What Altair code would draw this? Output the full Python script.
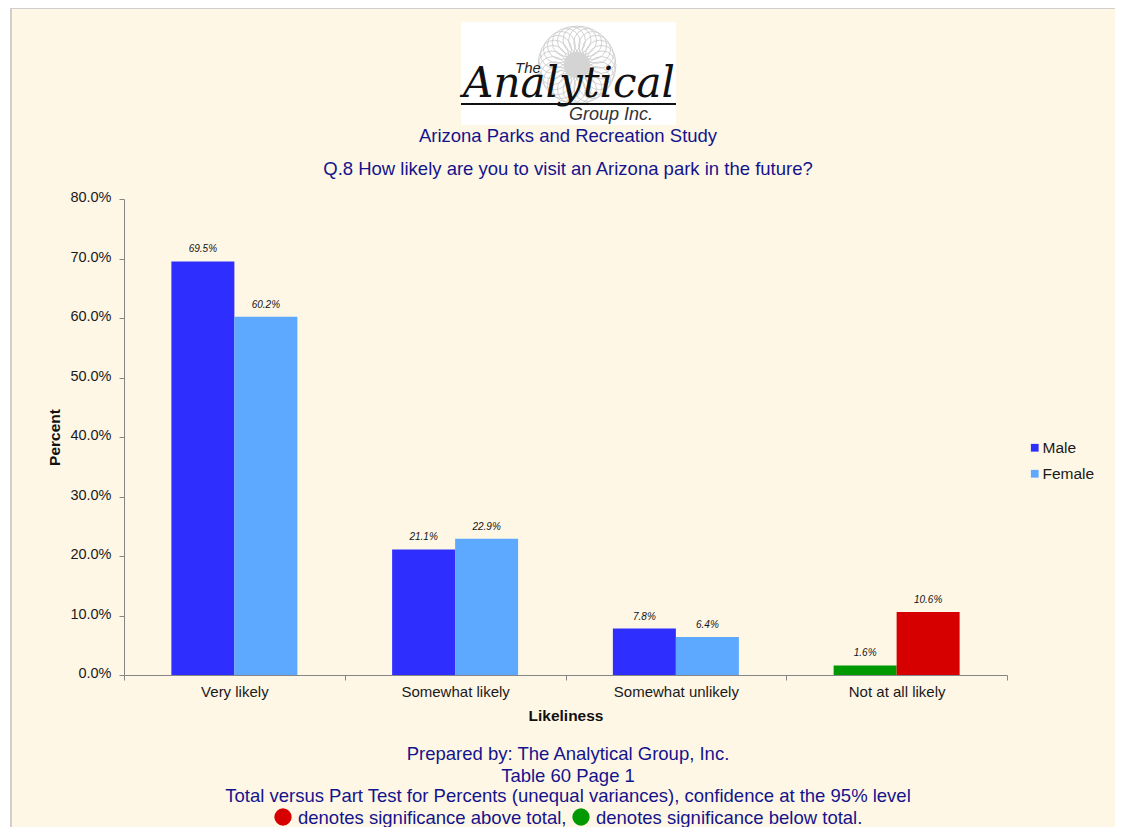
import base64
import math
import altair as alt

categories = ["Very likely", "Somewhat likely", "Somewhat unlikely", "Not at all likely"]
male = [69.5, 21.1, 7.8, 1.6]
female = [60.2, 22.9, 6.4, 10.6]
male_keys = ["Male", "Male", "Male", "Below total"]
female_keys = ["Female", "Female", "Female", "Above total"]
color_domain = ["Male", "Female", "Below total", "Above total"]
color_range = ["#2E2EFF", "#5CA9FF", "#009900", "#D60000"]

rows = []
for c, m, f, mk, fk in zip(categories, male, female, male_keys, female_keys):
    rows.append({"cat": c, "series": "Male", "value": m, "key": mk, "label": f"{m:.1f}%"})
    rows.append({"cat": c, "series": "Female", "value": f, "key": fk, "label": f"{f:.1f}%"})

L, T = 124, 199
W, H = 883, 476
TOTAL_W, TOTAL_H = 1107, 819
PAD = {"left": L - 8, "top": T - 8, "right": TOTAL_W - (L - 8) - W, "bottom": TOTAL_H - (T - 8) - H}
FONT = "Liberation Sans"
NAVY = "#14148C"
ONE = alt.Data(values=[{"a": 1}])


def box(x0, y0, x1, y1, color):
    return alt.Chart(ONE).mark_rect(color=color, clip=False).encode(
        x=alt.value(x0 - L), x2=alt.value(x1 - L), y=alt.value(y0 - T), y2=alt.value(y1 - T))


def label(text, x, y, size=18.5, align="center", color=NAVY, font=FONT, style="normal", weight="normal"):
    return alt.Chart(ONE).mark_text(
        text=text, align=align, baseline="middle", fontSize=size, color=color,
        font=font, fontStyle=style, fontWeight=weight, clip=False,
    ).encode(x=alt.value(x - L), y=alt.value(y - T))


def dot(x, y, color):
    return alt.Chart(ONE).mark_point(filled=True, size=300, color=color, opacity=1, clip=False).encode(
        x=alt.value(x - L), y=alt.value(y - T))


# Decorative grey spirograph behind the logo lettering
loops = "".join(
    f'<circle cx="{40 + 25 * math.cos(i * 0.2244):.1f}" cy="{42 + 25 * math.sin(i * 0.2244):.1f}" r="14" '
    'fill="none" stroke="#c6c6c6" stroke-width="0.8"/>'
    for i in range(28)
)
svg = (f'<svg xmlns="http://www.w3.org/2000/svg" width="80" height="84">{loops}'
       '<circle cx="40" cy="42" r="13" fill="#d4d4d4"/></svg>')
spiro = "data:image/svg+xml;base64," + base64.b64encode(svg.encode()).decode()
logo_img = alt.Chart(ONE).mark_image(url=spiro, width=80, height=84, clip=False, align="center", baseline="middle").encode(
    x=alt.value(577 - L), y=alt.value(65 - T))

base = alt.Chart(alt.Data(values=rows))
x = alt.X("cat:N", sort=categories, scale=alt.Scale(paddingInner=0, paddingOuter=0),
          axis=alt.Axis(title="Likeliness", labelAngle=0, tickBand="extent", domainColor="#868686",
                        tickColor="#868686", tickSize=5, labelFontSize=15, labelColor="#1a1a1a",
                        labelFont=FONT, titleFont=FONT, titleFontSize=15.5, titleFontWeight="bold",
                        titleColor="#111111", labelPadding=4, titlePadding=9, zindex=1))
xo = alt.XOffset("series:N", sort=["Male", "Female"], scale=alt.Scale(paddingInner=0, paddingOuter=0.752))
y = alt.Y("value:Q", scale=alt.Scale(domain=[0, 80], nice=False),
          axis=alt.Axis(title="Percent", values=[0, 10, 20, 30, 40, 50, 60, 70, 80], grid=False,
                        labelExpr="format(datum.value,'.1f')+'%'", domainColor="#868686", tickColor="#868686",
                        tickSize=5, labelFontSize=14.5, labelColor="#1a1a1a", labelFont=FONT, titleFont=FONT,
                        titleFontSize=15.5, titleFontWeight="bold", titleColor="#111111", labelPadding=8,
                        labelOffset=-1.5, titlePadding=7, zindex=1))

bars = base.mark_bar(stroke=None).encode(
    x=x, xOffset=xo, y=y,
    color=alt.Color("key:N", scale=alt.Scale(domain=color_domain, range=color_range),
                    legend=alt.Legend(orient="none", legendX=1027 - L, legendY=440 - T, title=None,
                                      values=["Male", "Female"], symbolType="square", symbolSize=60,
                                      symbolStrokeWidth=0, labelFont=FONT, labelFontSize=15.5,
                                      labelColor="#1a1a1a", rowPadding=9, labelOffset=0)),
)
texts = base.mark_text(dy=-12, fontSize=10, fontStyle="italic", font=FONT, color="#111111").encode(
    x=x, xOffset=xo, y=y, text="label:N")

chart = alt.layer(
    box(10, 8, 1115, 827, "#CFCFCF"),
    box(12, 9, 1115, 827, "#FFF7E6"),
    box(461, 22, 676, 125, "#FFFFFF"),
    logo_img,
    label("The", 528, 68, size=15, color="#222222", style="italic"),
    label("Analytical", 569, 84, size=42, color="#111111", font="DejaVu Serif", style="italic"),
    box(461, 103, 676, 105, "#111111"),
    label("Group Inc.", 611, 115, size=18, color="#333333", style="italic"),
    label("Arizona Parks and Recreation Study", 568, 136),
    label("Q.8 How likely are you to visit an Arizona park in the future?", 568, 169),
    bars,
    texts,
    label("Prepared by: The Analytical Group, Inc.", 568, 754),
    label("Table 60 Page 1", 568, 776),
    label("Total versus Part Test for Percents (unequal variances), confidence at the 95% level", 568, 796),
    dot(283, 817, "#D60000"),
    label("denotes significance above total,", 298, 818, align="left"),
    dot(581, 817, "#009900"),
    label("denotes significance below total.", 596, 818, align="left"),
).properties(
    width=W, height=H, padding=PAD, background="#FFFFFF",
    autosize=alt.AutoSizeParams(type="none"),
).configure_view(stroke=None)

chart.save("out.html", embed_options={"renderer": "svg", "actions": False})
